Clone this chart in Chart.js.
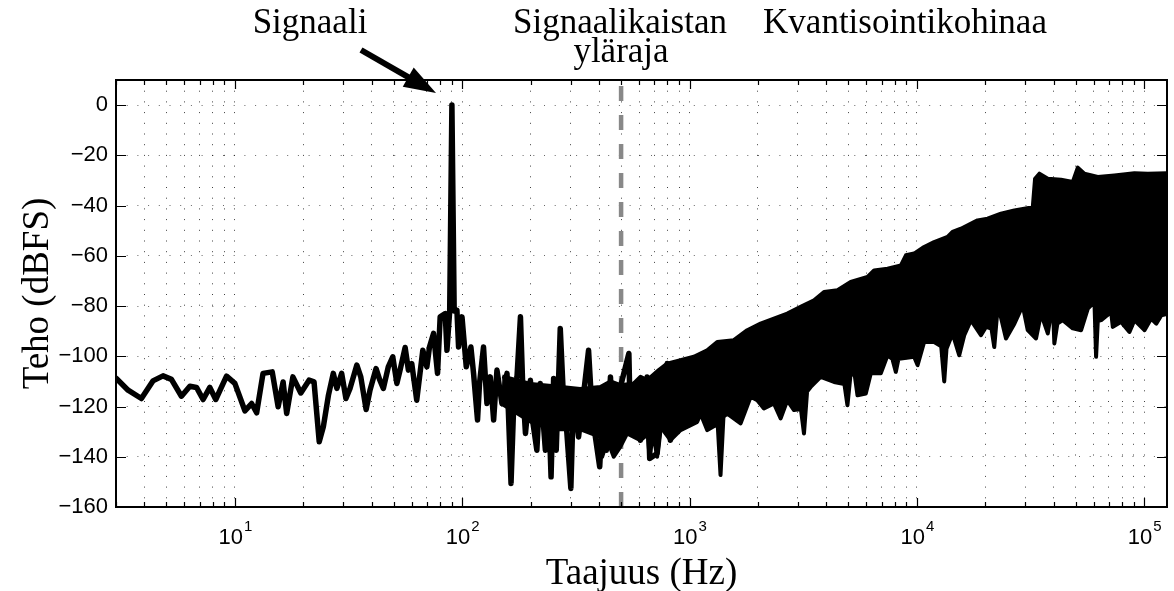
<!DOCTYPE html>
<html>
<head>
<meta charset="utf-8">
<script src="https://cdn.jsdelivr.net/npm/chart.js@4/dist/chart.umd.min.js"></script>
<style>
  html, body { margin: 0; padding: 0; background: #fff; }
  #wrap { width: 1174px; height: 591px; }
</style>
</head>
<body>
<div id="wrap"><canvas id="spectrum" width="1174" height="591"></canvas></div>
<script>
// === Data ===
// low-frequency part of the spectrum, drawn as a thick line
const freqLow = [3.01, 3.39, 3.88, 4.36, 4.83, 5.26, 5.82, 6.34, 6.78, 7.25,
  7.76, 8.24, 9.19, 10.0, 11.07, 11.85, 12.47, 13.3, 14.6, 15.5,
  16.3, 16.9, 18.0, 19.5, 21.2, 22.3, 23.5, 24.5, 25.8, 27.1,
  28.1, 29.5, 30.8, 32.1, 34.4, 35.8, 37.8, 39.3, 41.8, 43.3,
  45.0, 47.3, 49.5, 51.6, 53.3, 56.1, 58.0, 60.0, 63.1, 67.1,
  69.9, 71.8, 74.8, 77.9, 80.0, 84.2, 85.7, 88.1, 90.1, 92.2,
  94.8, 96.4, 99.8, 104.2, 109.2, 112.2, 116.8, 119.2, 124.1, 128.5,
  132.9, 137.5, 142.2, 149.6, 157.4, 164.0, 168.4, 174.2, 180.4, 184.9,
  189.8, 199.5, 204.9, 213, 220.6, 232.3, 240.1, 246, 252.5, 259.2,
  270, 277.9, 287.4, 300.6, 309.0, 325.0, 342.1, 359.6, 368.8, 385.3,
  402.6, 418.8, 430.5, 449, 464.2, 488.4, 541, 550, 578, 608,
  651, 668, 720, 798, 824, 913];
const powerLow = [-108.8, -113.5, -116.8, -109.8, -107.8, -109.2, -115.9, -111.9, -112.4, -117.2,
  -112.4, -117.2, -107.9, -110.8, -121.7, -118.8, -122.5, -106.8, -106.2, -120.1,
  -110.2, -122.8, -108.2, -114.6, -109.5, -110.2, -134.0, -128.1, -115.5, -106.8,
  -112.8, -106.8, -116.8, -112.8, -103.5, -108.2, -121.2, -113.5, -104.9, -109.2,
  -112.8, -104.2, -100.2, -110.8, -105.5, -96.5, -105.5, -102.9, -117.5, -97.6,
  -104.2, -96.3, -90.9, -106.8, -84.3, -83.0, -97.6, -82, 0, -82,
  -81.7, -96.3, -84.3, -104.2, -96.3, -106.8, -125.4, -110.8, -96.3, -118.8,
  -108.2, -125.4, -105.5, -118.8, -106.8, -150.6, -120.1, -108.2, -84.3, -113.5,
  -130.7, -109.5, -126.7, -137.4, -110.8, -137.4, -120.1, -148.0, -108.8, -137.4,
  -88.9, -113.5, -128.1, -152.6, -114.8, -132.1, -114.8, -97.6, -114.8, -132.1,
  -144.0, -114.8, -137.4, -108.2, -136.0, -114.8, -98.9, -129.4, -110.8, -133.4,
  -108.2, -140.7, -138.7, -102.9, -133.4, -102.9];

// dense noise region: upper edge of the black band
const bandTopHz = [150, 200, 260, 330, 405.5, 448.7, 496.6, 568.9, 608.1, 651.2,
  732.6, 797.7, 912.9, 1044.8, 1196.7, 1324, 1567, 1795, 2054, 2351,
  2692, 3083, 3531, 3906, 4477, 5117, 6067, 6486, 7430, 8511,
  8954, 9727, 10765, 11912, 13650, 14355, 15631, 18493, 20464, 23442,
  26853, 32359, 33113, 34594, 37670, 43053, 48529, 51050, 54576, 62517,
  73961, 90573, 103750, 127057];
const bandTopDb = [-108, -111, -112, -113, -112.2, -110, -111.5, -110.8, -108.2, -109.5,
  -105.5, -102.9, -101.5, -100.2, -97.6, -94.3, -93.6, -89.6, -87.0, -85.0,
  -83.0, -80.3, -77.7, -74.4, -73.7, -70.4, -68.4, -65.8, -65.1, -63.8,
  -59.8, -59.1, -56.5, -54.5, -52.5, -50.5, -49.2, -45.9, -45.2, -43.2,
  -41.9, -40.6, -29.3, -27.3, -29.3, -29.7, -30.6, -24.9, -27.3, -28.6,
  -28.0, -27.1, -27.3, -27.1];

// dense noise region: lower edge of the black band (with the narrow dips)
const bandBotHz = [150, 200, 260, 330, 405.5, 412.6, 435.5, 464.2, 496.6, 531.6,
  608.1, 655, 668.0, 690, 720.4, 745, 824.4, 912.9, 1081, 1118,
  1197, 1330, 1369, 1410, 1465, 1678, 1857, 1987, 2125, 2351,
  2517, 2692, 2881, 3090, 3188, 3290, 3412, 3776, 4322, 4800,
  4951, 5100, 5294, 5480, 5962, 6273, 6940, 7430, 7800, 8083,
  8300, 8511, 9727, 10072, 10765, 11912, 12800, 13196, 13500, 14355,
  15357, 16160, 17298, 19139, 20137, 21300, 21904, 22500, 23047, 24667,
  26853, 29226, 30742, 33442, 35181, 37670, 39610, 40254, 41500, 43853,
  48529, 52781, 56494, 59429, 60500, 61432, 62500, 64657, 71549, 72795,
  79178, 86130, 90573, 100300, 107350, 112960, 118830, 127057];
const bandBotDb = [-119, -126, -129, -129, -132.1, -140, -133.4, -140, -136, -130.7,
  -133.4, -131, -140.7, -130, -140, -128, -133.4, -129.4, -126.1, -122.8,
  -129.4, -127, -147.3, -124, -122.8, -126.7, -116.1, -117.5, -120.8, -118.8,
  -124.7, -117.5, -121.4, -121, -130.7, -114, -112.2, -108.2, -110.2, -111,
  -119.5, -108, -105.5, -115.5, -114.8, -106.8, -106.8, -99.6, -101, -106.2,
  -101, -100.9, -100.2, -103.5, -94.3, -94.3, -96, -110, -97, -90.9,
  -99.6, -91.6, -85.6, -91.6, -88.3, -89, -96.3, -84, -81.7, -92.9,
  -87.0, -79.7, -89.6, -92.9, -83.0, -90.9, -78.4, -94.9, -87, -85.6,
  -88.9, -89.6, -81.0, -79.0, -80, -100.2, -86, -85.6, -82.3, -88.3,
  -86.3, -90.3, -85.6, -89.6, -85.0, -87.0, -83.7, -83.0];

const bandEdgeHz = 500;           // signaalikaistan yläraja
const yTicks = [-160, -140, -120, -100, -80, -60, -40, -20, 0];
const xDecades = [10, 100, 1000, 10000, 100000];
const xMinorMult = [2, 3, 4, 5, 6, 7, 8, 9];

// === Build datasets ===
const lowPoints = freqLow.map((f, i) => ({ x: f, y: powerLow[i] }));
const bandShape = bandTopHz.map((f, i) => ({ x: f, y: bandTopDb[i] }))
  .concat(bandBotHz.map((f, i) => ({ x: f, y: bandBotDb[i] })).reverse());
const edgeLine = [{ x: bandEdgeHz, y: -160 }, { x: bandEdgeHz, y: 10 }];

// all x tick values (decades + minor) for grid lines
const xTickVals = [];
[1, 10, 100, 1000, 10000, 100000].forEach(d => {
  [1].concat(xMinorMult).forEach(m => {
    const v = d * m;
    if (v >= 3 && v <= 126000) xTickVals.push(v);
  });
});

const SANS = '"Liberation Sans", Arial, Helvetica, sans-serif';
const SERIF = '"Liberation Serif", "Times New Roman", serif';

// === Decorations: frame, inside ticks, x labels, annotations ===
const decorPlugin = {
  id: 'decor',
  afterDraw(chart) {
    const ctx = chart.ctx;
    const a = chart.chartArea;
    const xs = chart.scales.x;
    const ys = chart.scales.y;
    ctx.save();

    // inside tick marks (MATLAB style)
    ctx.strokeStyle = '#000';
    ctx.lineWidth = 1.2;
    ctx.beginPath();
    xTickVals.forEach(v => {
      const px = Math.round(xs.getPixelForValue(v)) + 0.5;
      const len = xDecades.includes(v) ? 9 : 5;
      ctx.moveTo(px, a.top); ctx.lineTo(px, a.top + len);
      ctx.moveTo(px, a.bottom); ctx.lineTo(px, a.bottom - len);
    });
    yTicks.forEach(v => {
      const py = Math.round(ys.getPixelForValue(v)) + 0.5;
      ctx.moveTo(a.left, py); ctx.lineTo(a.left + 10, py);
      ctx.moveTo(a.right, py); ctx.lineTo(a.right - 10, py);
    });
    ctx.stroke();

    // box
    ctx.lineWidth = 2;
    ctx.strokeRect(a.left, a.top, a.right - a.left, a.bottom - a.top);

    // x tick labels 10^n
    ctx.fillStyle = '#000';
    ctx.textBaseline = 'alphabetic';
    ctx.textAlign = 'left';
    xDecades.forEach((v, i) => {
      const px = xs.getPixelForValue(v);
      const exp = String(i + 1);
      ctx.font = '22px ' + SANS;
      const wBase = ctx.measureText('10').width;
      ctx.font = '15px ' + SANS;
      const wExp = ctx.measureText(exp).width;
      const x0 = px - (wBase + wExp) / 2;
      ctx.font = '22px ' + SANS;
      ctx.fillText('10', x0, 544);
      ctx.font = '15px ' + SANS;
      ctx.fillText(exp, x0 + wBase + 1, 531);
    });

    // annotations
    ctx.font = '35px ' + SERIF;
    ctx.textAlign = 'center';
    ctx.fillText('Signaali', 310, 33);
    ctx.fillText('Signaalikaistan', 620, 33);
    ctx.fillText('yläraja', 621, 62);
    ctx.fillText('Kvantisointikohinaa', 905, 33);

    // arrow to the signal peak
    const x1 = 361, y1 = 50, x2 = 436, y2 = 93;
    const ang = Math.atan2(y2 - y1, x2 - x1);
    const headLen = 32, headW = 11;
    const bx = x2 - headLen * Math.cos(ang), by = y2 - headLen * Math.sin(ang);
    ctx.lineWidth = 6;
    ctx.lineCap = 'butt';
    ctx.beginPath();
    ctx.moveTo(x1, y1);
    ctx.lineTo(bx + 4 * Math.cos(ang), by + 4 * Math.sin(ang));
    ctx.stroke();
    ctx.beginPath();
    ctx.moveTo(x2, y2);
    ctx.lineTo(bx - headW * Math.sin(ang), by + headW * Math.cos(ang));
    ctx.lineTo(bx + headW * Math.sin(ang), by - headW * Math.cos(ang));
    ctx.closePath();
    ctx.fill();

    ctx.restore();
  }
};

// === Chart ===
new Chart(document.getElementById('spectrum'), {
  type: 'line',
  data: {
    datasets: [
      {
        label: 'Spektri',
        data: lowPoints,
        borderColor: '#000',
        borderWidth: 5.5,
        borderJoinStyle: 'round',
        borderCapStyle: 'round',
        pointRadius: 0,
        tension: 0,
        fill: false,
        order: 1
      },
      {
        label: 'Kohina',
        data: bandShape,
        borderColor: '#000',
        backgroundColor: '#000',
        borderWidth: 4,
        borderJoinStyle: 'round',
        pointRadius: 0,
        tension: 0,
        fill: 'shape',
        order: 2
      },
      {
        label: 'Yläraja',
        data: edgeLine,
        borderColor: '#888',
        borderWidth: 4.5,
        borderDash: [15, 14],
        pointRadius: 0,
        fill: false,
        order: 3
      }
    ]
  },
  options: {
    responsive: false,
    animation: false,
    devicePixelRatio: 1,
    layout: { padding: { top: 80, right: 7, left: 0, bottom: 0 } },
    plugins: { legend: { display: false }, tooltip: { enabled: false } },
    scales: {
      x: {
        type: 'logarithmic',
        min: 3,
        max: 126000,
        afterBuildTicks: s => { s.ticks = xTickVals.map(v => ({ value: v })); },
        afterFit: s => { s.height = 84; },
        ticks: { display: false },
        grid: { color: 'rgba(0,0,0,0.75)', lineWidth: 1, drawTicks: false },
        border: { display: false, dash: [1, 9.7] },
        title: {
          display: true,
          text: 'Taajuus (Hz)',
          font: { family: SERIF, size: 37 },
          color: '#000',
          padding: { top: 0, bottom: -5 }
        }
      },
      y: {
        type: 'linear',
        min: -160,
        max: 10,
        afterBuildTicks: s => { s.ticks = yTicks.map(v => ({ value: v })); },
        afterFit: s => { s.width = 116; },
        ticks: {
          color: '#000',
          padding: 8,
          font: { family: SANS, size: 22 },
          callback: v => (v < 0 ? '\u2212' + Math.abs(v) : String(v))
        },
        grid: { color: 'rgba(0,0,0,0.6)', lineWidth: 1, drawTicks: false },
        border: { display: false, dash: [1, 9.7] },
        title: {
          display: true,
          text: 'Teho (dBFS)',
          font: { family: SERIF, size: 37 },
          color: '#000',
          padding: { top: 16, bottom: 0 }
        }
      }
    }
  },
  plugins: [decorPlugin]
});
</script>
</body>
</html>
